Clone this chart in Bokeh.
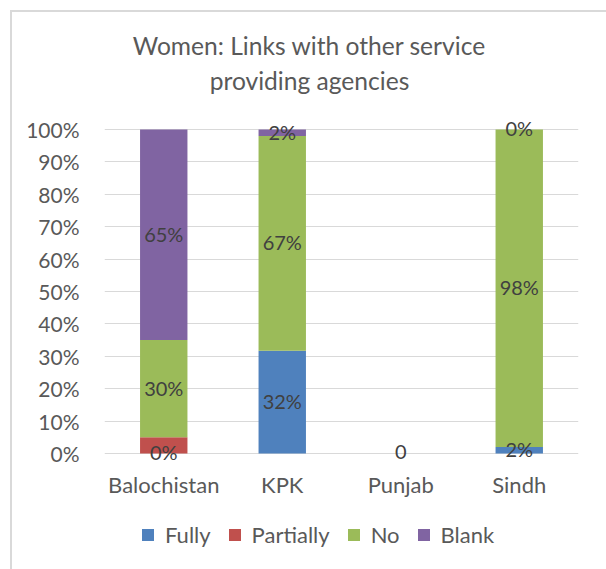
from bokeh.plotting import figure
from bokeh.models import (Range1d, FactorRange, NumeralTickFormatter, Legend, Label,
                          LegendItem, ColumnDataSource, LabelSet, FixedTicker)
from bokeh.core.properties import value
from bokeh.embed import file_html
from bokeh.resources import INLINE

regions = ["Balochistan", "KPK", "Punjab", "Sindh"]
series = ["Fully", "Partially", "No", "Blank"]
fully = [0, 32, 0, 2]
partially = [5, 0, 0, 0]
no = [30, 67, 0, 98]
blank = [65, 2, 0, 0]
colors = ["#4F81BD", "#C0504D", "#9BBB59", "#8064A2"]
labelled = ["Fully", "No", "Blank"]
y_ticks = [0.0, 0.1, 0.2, 0.3, 0.4, 0.5, 0.6, 0.7, 0.8, 0.9, 1.0]
title_lines = ["Women: Links with other service", "providing agencies"]

raw = {"Fully": fully, "Partially": partially, "No": no, "Blank": blank}
totals = [sum(raw[s][i] for s in series) for i in range(len(regions))]
data = {"x": regions}
for s in series:
    data[s] = [raw[s][i] / totals[i] if totals[i] else 0 for i in range(len(regions))]
src = ColumnDataSource(data)

FONT = "Lato"
GREY = "#595959"
p = figure(x_range=FactorRange(*regions), y_range=Range1d(-0.358, 1.361),
           frame_width=474, frame_height=557, x_axis_location=None,
           output_backend="svg", toolbar_location=None,
           min_border_left=92, min_border_right=28, min_border_top=0, min_border_bottom=0,
           styles={"margin-left": "10px", "margin-top": "10px",
                   "border-left": "2px solid #d9d9d9", "border-top": "2px solid #d9d9d9"})
p.title.visible = False
p.outline_line_color = None
p.background_fill_color = "white"
p.border_fill_color = "white"

renderers = p.vbar_stack(series, x="x", width=0.4, source=src, color=colors, line_color=None)

# data labels
lx, ly, lt = [], [], []
for i, r in enumerate(regions):
    bottom = 0.0
    for s in series:
        v = data[s][i]
        if s in labelled:
            if totals[i] == 0:
                if s == "Fully":
                    lx.append(r); ly.append(bottom + v / 2); lt.append("0")
            else:
                lx.append(r); ly.append(bottom + v / 2); lt.append(f"{raw[s][i]}%")
        bottom += v
lsrc = ColumnDataSource(dict(x=lx, y=ly, t=lt))
p.add_layout(LabelSet(x="x", y="y", text="t", source=lsrc, text_align="center",
                      text_baseline="middle", text_color="#404040", text_font=value(FONT),
                      text_font_size="20px", y_offset=1))

# category labels (below the 0% line)
csrc = ColumnDataSource(dict(x=regions, y=[-0.096] * len(regions), t=regions))
p.add_layout(LabelSet(x="x", y="y", text="t", source=csrc, text_align="center",
                      text_baseline="middle", text_color=GREY, text_font=value(FONT),
                      text_font_size="22px"))

# y axis
p.yaxis.ticker = FixedTicker(ticks=y_ticks)
p.yaxis.formatter = NumeralTickFormatter(format="0%")
p.yaxis.axis_line_color = None
p.yaxis.major_tick_line_color = None
p.yaxis.minor_tick_line_color = None
p.yaxis.major_label_standoff = 19
p.yaxis.major_label_text_font = FONT
p.yaxis.major_label_text_color = GREY
p.yaxis.major_label_text_font_size = "21px"
p.xgrid.grid_line_color = None
p.ygrid.ticker = FixedTicker(ticks=y_ticks)
p.ygrid.grid_line_color = "#d9d9d9"
p.ygrid.grid_line_width = 1

# title (two lines)
for txt, yy in zip(title_lines, (1.259, 1.151)):
    p.add_layout(Label(x=1.73, y=yy, text=txt, text_align="center", text_baseline="middle",
                       text_font=FONT, text_font_size="24.6px", text_color=GREY))

legend = Legend(items=[LegendItem(label=s, renderers=[r]) for s, r in zip(series, renderers)],
                orientation="horizontal", location=(36, 21))
legend.border_line_color = None
legend.background_fill_alpha = 0
legend.padding = 0
legend.margin = 0
legend.spacing = 16
legend.glyph_width = 15
legend.glyph_height = 15
legend.label_standoff = 10
legend.label_text_font = FONT
legend.label_text_font_size = "22px"
legend.label_text_color = GREY
p.add_layout(legend, "center")

open("out.html", "w").write(file_html(p, INLINE))
